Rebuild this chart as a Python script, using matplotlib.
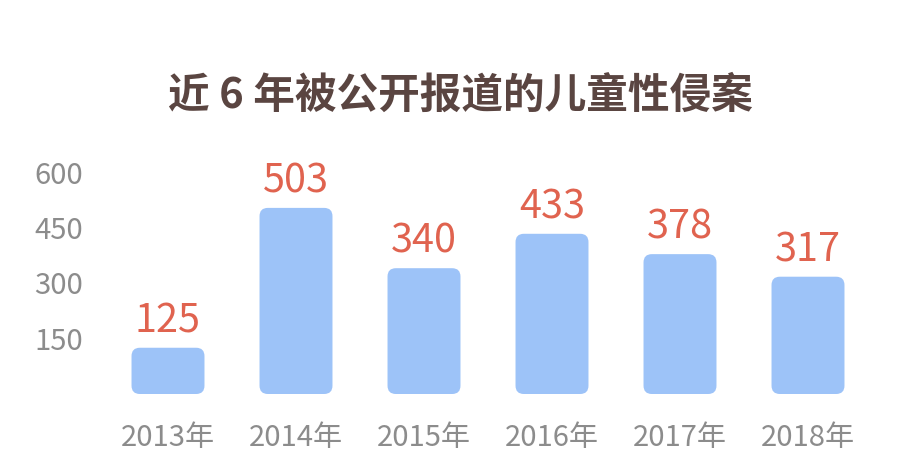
import matplotlib
matplotlib.use('Agg')
import matplotlib.pyplot as plt
from matplotlib.patches import FancyBboxPatch

plt.rcParams['font.family'] = ['Noto Sans CJK SC', 'DejaVu Sans']

years = ['2013年', '2014年', '2015年', '2016年', '2017年', '2018年']
cases = [125, 503, 340, 433, 378, 317]
yticks = [150, 300, 450, 600]

title_color = '#5a4541'
value_color = '#e0634f'
bar_color = '#9dc3f8'
gray = '#8c8c8c'

fig = plt.figure(figsize=(9, 4.58), dpi=100)
ax = fig.add_axes([104/900, 64/458, 768/900, 222/458])
ax.set_xlim(-0.5, len(years) - 0.5)
ax.set_ylim(0, 600)

bars = ax.bar(range(len(years)), cases, width=0.57, color=bar_color)

# swap the plain bars for rounded ones (aspect fixes the corner shape)
px = ax.transData.transform([(0, 0), (1, 1)])
aspect = (px[1][0] - px[0][0]) / (px[1][1] - px[0][1])
for b in bars:
    b.set_visible(False)
    rb = FancyBboxPatch((b.get_x(), b.get_y()), b.get_width(), b.get_height(),
                        boxstyle='round,pad=0,rounding_size=0.065',
                        mutation_aspect=aspect, fc=bar_color, ec='none')
    ax.add_patch(rb)

for i, v in enumerate(cases):
    ax.annotate(str(v), (i, v), xytext=(0, 11), textcoords='offset points',
                ha='center', va='baseline', fontsize=28.5, color=value_color,
                annotation_clip=False)

ax.set_xticks(range(len(years)))
ax.set_xticklabels(years)
ax.set_yticks(yticks)
ax.set_yticklabels([str(t) for t in yticks])
ax.tick_params(axis='x', length=0, pad=21, labelsize=21, labelcolor=gray)
ax.tick_params(axis='y', length=0, pad=15, labelsize=21, labelcolor=gray)
for s in ax.spines.values():
    s.set_visible(False)

fig.text(460/900, 1 - 96/458, '近 6 年被公开报道的儿童性侵案', ha='center', va='center',
         fontsize=30, fontweight='bold', color=title_color)

fig.savefig('out.png', dpi=100, facecolor='white')
